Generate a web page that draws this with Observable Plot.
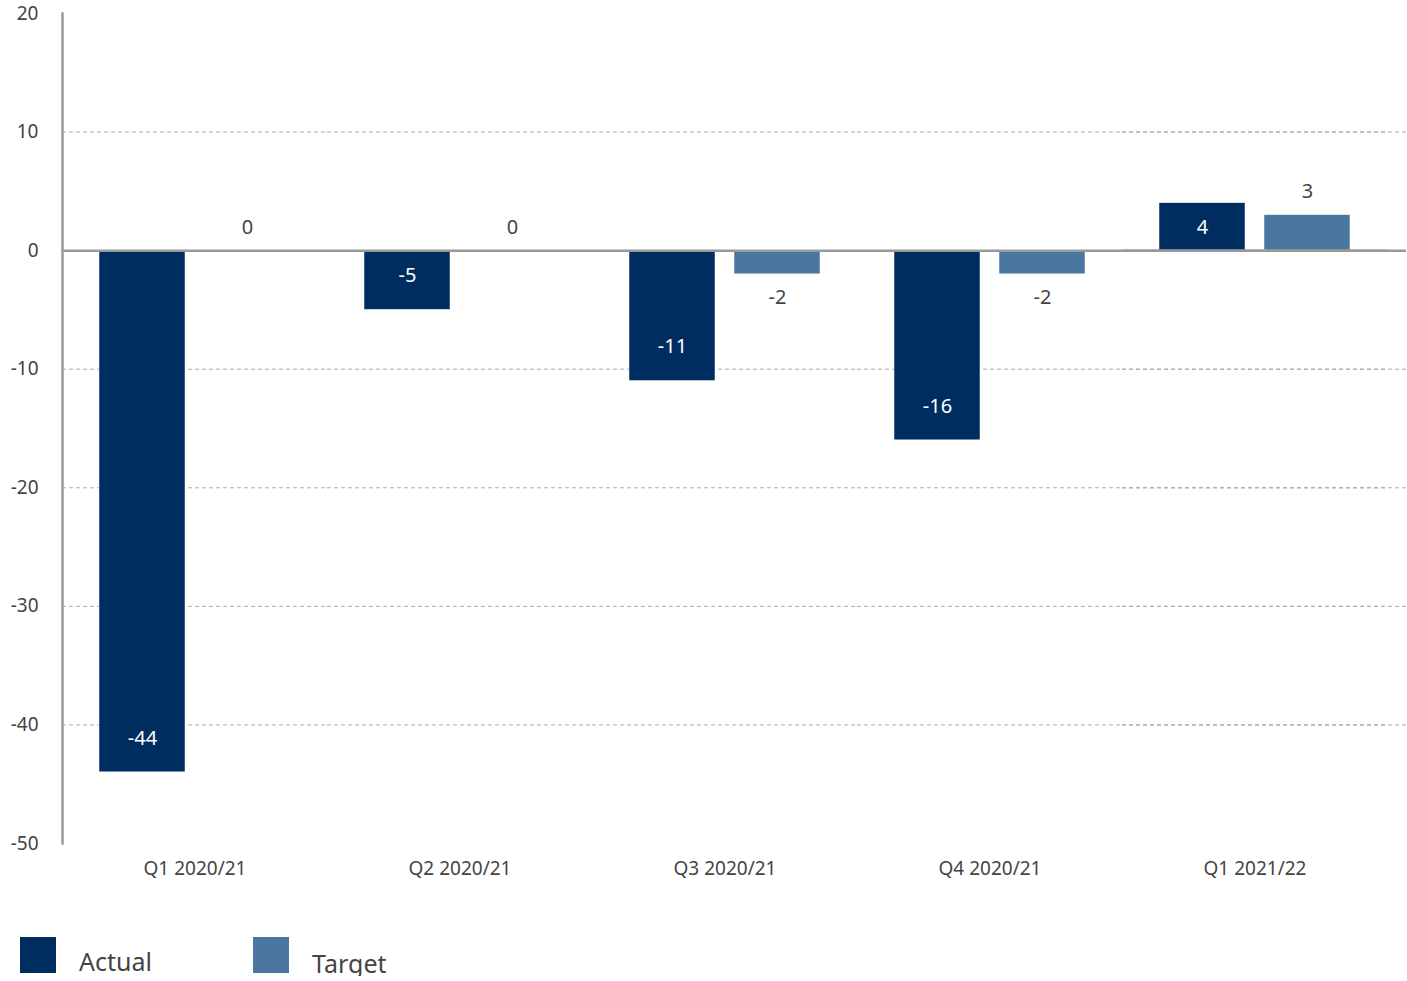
<!DOCTYPE html>
<html>
<head>
<meta charset="utf-8">
<script src="https://cdn.jsdelivr.net/npm/d3@7"></script>
<script src="https://cdn.jsdelivr.net/npm/@observablehq/plot@0.6"></script>
<style>
  body { margin: 0; background: #fff; font-family: "Noto Sans", sans-serif; }
  #legend { display: flex; margin-top: 12px; padding-left: 20px; }
  .item { display: flex; align-items: flex-start; }
  .sw { width: 36px; height: 36px; }
  .lab { font-size: 25px; color: #444; margin-left: 23px; line-height: 1; padding-top: 12px; }
</style>
</head>
<body>
<div id="chart"></div>
<div id="legend"></div>
<script>
const quarters = ["Q1 2020/21", "Q2 2020/21", "Q3 2020/21", "Q4 2020/21", "Q1 2021/22"];
const actual = [-44, -5, -11, -16, 4];
const target = [0, 0, -2, -2, 3];
const seriesNames = ["Actual", "Target"];
const seriesColors = ["#002d5f", "#4a77a0"];
const yTicks = [20, 10, 0, -10, -20, -30, -40, -50];
const gridTicks = [10, -10, -20, -30, -40];

const data = [];
quarters.forEach((q, i) => {
  data.push({quarter: q, series: "Actual", value: actual[i]});
  data.push({quarter: q, series: "Target", value: target[i]});
});
const act = data.filter(d => d.series === "Actual");
const tgt = data.filter(d => d.series === "Target");
const lastQ = quarters[quarters.length - 1];
const lastGrid = gridTicks.map(v => ({quarter: lastQ, y: v}));

const chart = Plot.plot({
  width: 1407,
  height: 925,
  marginLeft: 61,
  marginRight: 19,
  marginTop: 13,
  marginBottom: 82,
  style: {fontFamily: "Noto Sans, sans-serif", background: "#fff"},
  fx: {domain: quarters, padding: 0, label: null},
  x: {domain: seriesNames, paddingInner: 0.179, paddingOuter: 0.342, axis: null},
  y: {domain: [-50, 20], label: null},
  color: {domain: seriesNames, range: seriesColors},
  marks: [
    Plot.ruleY(gridTicks, {stroke: "#aaa", strokeWidth: 1, strokeDasharray: "4,3"}),
    Plot.ruleY(lastGrid, {fx: "quarter", y: "y", insetRight: -19, stroke: "#aaa", strokeWidth: 1, strokeDasharray: "4,3"}),
    Plot.barY(data, {fx: "quarter", x: "series", y: "value", fill: "series", stroke: "#fff", strokeWidth: 0.5}),
    Plot.ruleY([0], {stroke: "#999", strokeWidth: 2.5}),
    Plot.ruleY([{quarter: lastQ, y: 0}], {fx: "quarter", y: "y", insetRight: -19, stroke: "#999", strokeWidth: 2.5}),
    Plot.frame({anchor: "left", facetAnchor: "left", stroke: "#999", strokeWidth: 2.5}),
    Plot.axisY({ticks: yTicks, tickFormat: d => String(d), tickSize: 0, tickPadding: 24, fontSize: 19, color: "#444"}),
    Plot.axisFx({anchor: "bottom", tickSize: 0, tickPadding: 18, fontSize: 19, color: "#444", label: null}),
    Plot.text(act.filter(d => d.value < 0), {fx: "quarter", x: "series", y: "value", text: d => String(d.value), dy: -34, fill: "#fff", fontSize: 20}),
    Plot.text(act.filter(d => d.value >= 0), {fx: "quarter", x: "series", y: "value", text: d => String(d.value), dy: 24, fill: "#fff", fontSize: 20}),
    Plot.text(tgt.filter(d => d.value >= 0), {fx: "quarter", x: "series", y: "value", text: d => String(d.value), dy: -23, fill: "#444", fontSize: 20}),
    Plot.text(tgt.filter(d => d.value < 0), {fx: "quarter", x: "series", y: "value", text: d => String(d.value), dy: 23, fill: "#444", fontSize: 20})
  ]
});
document.getElementById("chart").appendChild(chart);

const legend = document.getElementById("legend");
seriesNames.forEach((name, i) => {
  const item = document.createElement("div");
  item.className = "item";
  item.style.width = i === 0 ? "233px" : "auto";
  const sw = document.createElement("div");
  sw.className = "sw";
  sw.style.background = seriesColors[i];
  const lab = document.createElement("div");
  lab.className = "lab";
  lab.textContent = name;
  if (i === 1) lab.style.paddingTop = "14px";
  item.appendChild(sw);
  item.appendChild(lab);
  legend.appendChild(item);
});
</script>
</body>
</html>
